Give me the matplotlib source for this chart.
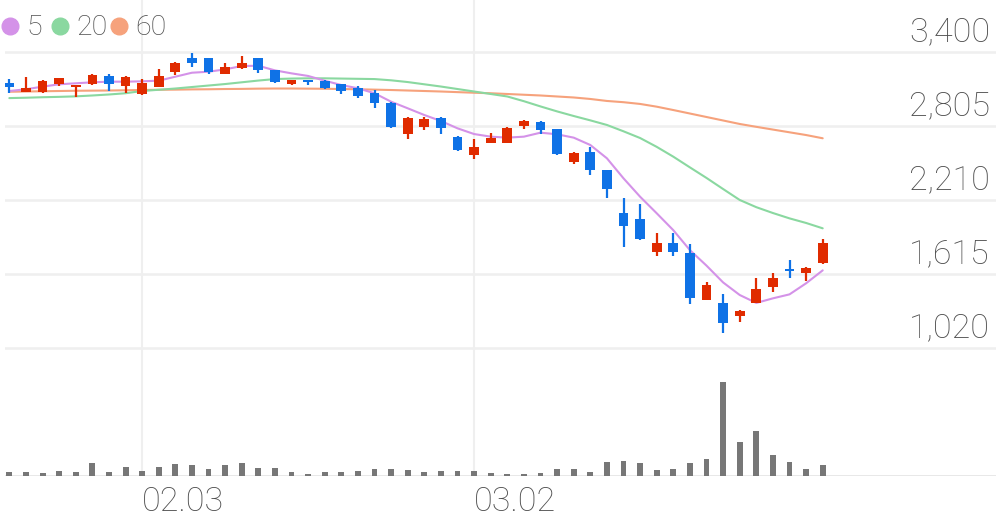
import matplotlib
matplotlib.use("Agg")
import matplotlib.pyplot as plt
import numpy as np

# ---- data ----
opens  = [3146, 3076, 3076, 3138, 3119, 3140, 3205, 3124, 3060, 3119,
          3237, 3347, 3347, 3221, 3267, 3347, 3253, 3140, 3172, 3167,
          3140, 3106, 3066, 2990, 2738, 2792, 2864, 2717, 2569, 2668,
          2668, 2805, 2837, 2776, 2511, 2596, 2449, 2106, 2053, 1792,
          1864, 1779, 1404, 1382, 1275, 1382, 1511, 1655, 1618, 1699]
highs  = [3178, 3194, 3172, 3190, 3135, 3218, 3221, 3202, 3178, 3258,
          3315, 3387, 3350, 3312, 3365, 3350, 3256, 3175, 3175, 3170,
          3143, 3127, 3092, 2993, 2877, 2877, 2877, 2720, 2696, 2749,
          2792, 2852, 2840, 2780, 2592, 2636, 2452, 2221, 2173, 1940,
          1940, 1852, 1551, 1449, 1320, 1583, 1623, 1725, 1668, 1892]
lows   = [3070, 3076, 3070, 3124, 3033, 3136, 3086, 3070, 3052, 3115,
          3213, 3275, 3218, 3218, 3264, 3231, 3150, 3132, 3132, 3100,
          3060, 3030, 2945, 2784, 2696, 2770, 2738, 2605, 2535, 2665,
          2665, 2778, 2738, 2572, 2495, 2409, 2221, 1832, 1890, 1757,
          1757, 1371, 1400, 1141, 1229, 1378, 1470, 1578, 1559, 1696]
closes = [3114, 3111, 3167, 3186, 3132, 3215, 3140, 3199, 3146, 3205,
          3312, 3307, 3239, 3275, 3312, 3253, 3159, 3172, 3159, 3106,
          3086, 3044, 2990, 2797, 2864, 2856, 2784, 2610, 2636, 2704,
          2784, 2843, 2770, 2578, 2588, 2449, 2294, 1999, 1892, 1860,
          1792, 1417, 1524, 1221, 1318, 1490, 1583, 1639, 1663, 1860]
volume = [4.3, 4.3, 3.3, 5.3, 4.3, 12.7, 4.3, 9.3, 5.3, 9.3,
          12.3, 11, 7, 11, 13, 8.3, 8.3, 4, 1.7, 4,
          4.3, 5, 7, 7, 6, 4, 5, 5.3, 5.3, 2.7,
          1.7, 2.3, 3, 6.7, 7, 4.3, 13.7, 15, 13, 5.7,
          7, 13, 17.3, 94, 34.3, 45, 21, 13.7, 7.3, 10.7]
ma5  = [3084, 3098, 3119, 3138, 3146, 3154, 3159, 3159, 3162, 3167,
        3199, 3231, 3239, 3258, 3285, 3287, 3250, 3226, 3205, 3167,
        3132, 3106, 3066, 2998, 2945, 2891, 2843, 2784, 2738, 2717,
        2709, 2717, 2749, 2736, 2709, 2650, 2543, 2382, 2234, 2101,
        1965, 1805, 1680, 1545, 1444, 1380, 1417, 1449, 1538, 1642]
ma20 = [3027, 3030, 3034, 3037, 3041, 3048, 3056, 3066, 3084, 3094,
        3104, 3116, 3128, 3140, 3154, 3168, 3180, 3184, 3186, 3186,
        3184, 3182, 3180, 3170, 3156, 3138, 3120, 3100, 3080, 3060,
        3040, 3002, 2960, 2920, 2883, 2848, 2811, 2760, 2706, 2635,
        2556, 2470, 2385, 2296, 2208, 2150, 2103, 2060, 2023, 1980]
ma60 = [3078, 3080, 3082, 3084, 3086, 3087, 3088, 3090, 3092, 3094,
        3095, 3097, 3098, 3100, 3101, 3103, 3104, 3104, 3103, 3102,
        3100, 3098, 3095, 3092, 3088, 3084, 3080, 3075, 3070, 3066,
        3060, 3054, 3048, 3040, 3032, 3020, 3004, 2994, 2980, 2958,
        2931, 2903, 2875, 2847, 2819, 2796, 2774, 2752, 2730, 2704]
price_ticks = [3400, 2805, 2210, 1615, 1020]
date_ticks = [8, 28]
date_labels = ["02.03", "03.02"]
ma_labels = ["5", "20", "60"]

# ---- style ----
RED = "#e02b00"
BLUE = "#0f72e6"
MA_COLORS = ["#d492e8", "#8ad8a0", "#f6a27c"]
GRID = "#efefef"
TXT = "#4e4e4e"
FONT = "Roboto"

W, H = 996, 519
fig = plt.figure(figsize=(W / 100, H / 100), dpi=100)
fig.patch.set_facecolor("white")

def px_box(x0, y0, x1, y1):
    return [x0 / W, 1 - y1 / H, (x1 - x0) / W, (y1 - y0) / H]

ax = fig.add_axes(px_box(5, 0, 996, 360))
axv = fig.add_axes(px_box(5, 360, 996, 476))
for a in (ax, axv):
    a.set_axis_off()
    a.set_xlim(-0.26, 59.44)

ax.set_ylim(921.3, 3815.7)
axv.set_ylim(0, 116)

n = len(opens)
x = np.arange(n)

# grid
for t in price_ticks:
    ax.axhline(t, color=GRID, lw=1.8, zorder=0)
for d in date_ticks:
    ax.axvline(d, color=GRID, lw=1.5, zorder=0)
    axv.axvline(d, color=GRID, lw=1.5, zorder=0)
axv.axhline(0, color="#e6e6e6", lw=2, zorder=0)

# moving averages
for vals, col in zip([ma60, ma20, ma5], MA_COLORS[::-1]):
    ax.plot(x, vals, color=col, lw=1.5, zorder=2, solid_capstyle="round")

# candles
o = np.array(opens, float); c = np.array(closes, float)
h = np.array(highs, float); l = np.array(lows, float)
up = c >= o
cols = np.where(up, RED, BLUE)
ax.vlines(x, l, h, colors=cols, lw=1.6, zorder=3)
bottom = np.minimum(o, c)
height = np.maximum(np.abs(c - o), 14)
ax.bar(x, height, bottom=bottom, width=0.58, color=cols, zorder=4, linewidth=0)

# volume
axv.bar(x, volume, width=0.36, color="#777777", zorder=2, linewidth=0)

# price labels
for t in price_ticks:
    ax.annotate(f"{t:,}", xy=(0.994, t), xycoords=("axes fraction", "data"),
                xytext=(0, 7.2), textcoords="offset points",
                ha="right", va="baseline", fontsize=24.5, color=TXT,
                family=FONT, fontweight="light", zorder=6)

# date labels
for d, lab in zip(date_ticks, date_labels):
    axv.annotate(lab, xy=(d, 0), xycoords="data",
                 xytext=(0, -25.5), textcoords="offset points",
                 ha="left", va="baseline", fontsize=24.5, color=TXT,
                 family=FONT, fontweight="light", annotation_clip=False)

# legend
leg_x = [10, 60, 119]
for lx, lab, col in zip(leg_x, ma_labels, MA_COLORS):
    fig.lines.append(plt.Line2D([lx / W], [1 - 26 / H], marker="o", ms=12,
                                color=col, mec=col, linestyle="none",
                                transform=fig.transFigure))
    fig.text((lx + 16.5) / W, 1 - 35 / H, lab, fontsize=20.5, color=TXT,
             family=FONT, fontweight="light", va="baseline", ha="left")

fig.savefig("out.png", dpi=100, facecolor="white")
